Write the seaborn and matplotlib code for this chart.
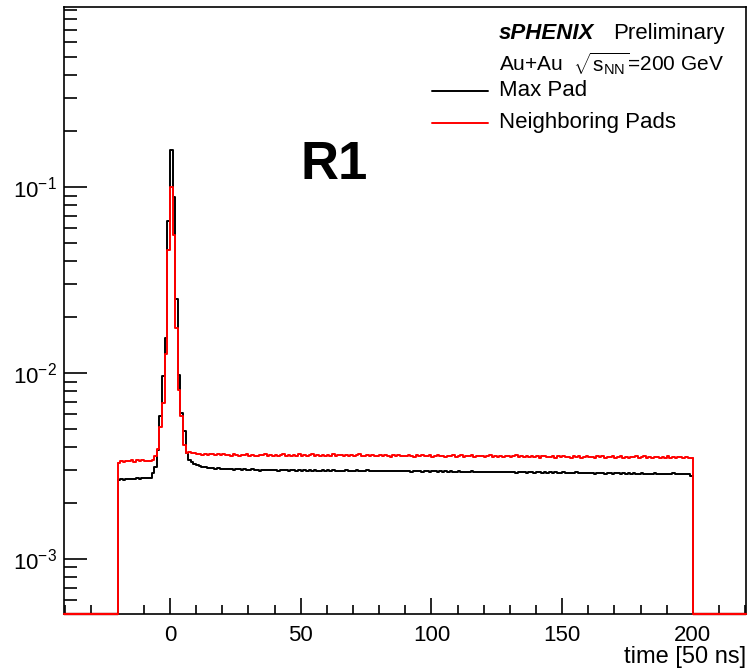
import numpy as np
import pandas as pd
import seaborn as sns
import matplotlib.pyplot as plt
from matplotlib.ticker import MultipleLocator, LogLocator

# Bin edges: 1-unit bins from -20 to 200 (time in 50 ns units)
bin_edges = np.arange(-20, 201)

# Bin contents in units of 1e-5
max_pad_pre = [266, 268, 267, 269, 268, 270, 269, 271, 270, 272, 271, 273, 274]
max_pad_peak = [290, 312, 385, 590, 960, 1550, 6600, 15800, 8800, 2500, 980, 610,
                490, 370, 340, 332]
max_pad_post = [
    326, 320, 316, 313, 311, 310, 308, 309, 306, 307,
    305, 306, 304, 303, 305, 302, 304, 303, 301, 303,
    302, 300, 303, 301, 302, 299, 301, 300, 302, 300,
    301, 302, 299, 301, 300, 302, 299, 301, 300, 298,
    301, 299, 300, 298, 300, 299, 301, 298, 299, 300,
    298, 300, 299, 301, 298, 299, 297, 299, 300, 298,
    299, 297, 300, 298, 299, 297, 300, 298, 297, 299,
    297, 299, 298, 296, 298, 297, 299, 296, 298, 297,
    296, 298, 297, 295, 297, 296, 298, 295, 297, 296,
    295, 297, 296, 294, 296, 295, 297, 294, 296, 295,
    294, 296, 295, 293, 295, 294, 296, 293, 295, 294,
    293, 295, 294, 292, 294, 293, 295, 292, 294, 293,
    292, 294, 293, 291, 293, 292, 294, 291, 293, 292,
    291, 293, 292, 290, 292, 291, 293, 290, 292, 291,
    290, 292, 291, 289, 291, 290, 292, 289, 291, 290,
    289, 291, 290, 288, 290, 289, 291, 288, 290, 289,
    288, 290, 289, 287, 289, 288, 290, 287, 289, 288,
    287, 289, 288, 286, 288, 287, 289, 286, 288, 287,
    288, 286, 287, 289, 286, 288, 285, 287, 286, 285,
    279]

neighbor_pre = [330, 336, 334, 338, 335, 340, 334, 339, 336, 341, 335, 338, 337]
neighbor_peak = [340, 360, 390, 510, 690, 1260, 4600, 10000, 5500, 1740, 810, 590,
                 410, 370, 378, 370]
neighbor_post = [
    372, 366, 369, 364, 367, 363, 368, 365, 362, 366,
    363, 367, 361, 364, 360, 365, 362, 358, 364, 361,
    366, 359, 363, 360, 357, 364, 361, 366, 358, 362,
    360, 364, 357, 362, 367, 359, 361, 356, 363, 360,
    365, 358, 361, 357, 363, 366, 359, 362, 356, 361,
    358, 363, 360, 366, 357, 361, 364, 358, 362, 359,
    363, 356, 361, 365, 358, 360, 363, 357, 361, 359,
    356, 362, 358, 364, 359, 355, 361, 358, 363, 357,
    360, 356, 362, 358, 354, 361, 357, 363, 356, 359,
    361, 355, 358, 362, 356, 359, 353, 360, 357, 362,
    355, 358, 361, 354, 359, 356, 362, 353, 358, 356,
    360, 354, 357, 361, 353, 358, 355, 360, 352, 357,
    359, 353, 356, 361, 354, 357, 352, 358, 355, 360,
    353, 357, 351, 356, 359, 352, 355, 358, 351, 356,
    354, 358, 352, 355, 350, 357, 353, 356, 351, 355,
    358, 352, 354, 349, 356, 353, 357, 351, 354, 352,
    356, 350, 354, 357, 351, 353, 349, 355, 352, 356,
    350, 353, 357, 351, 354, 348, 355, 352, 350, 354,
    351, 356, 349, 353, 350, 355, 352, 349, 354, 351,
    350]

max_pad = np.array(max_pad_pre + max_pad_peak + max_pad_post) * 1e-5
neighbor = np.array(neighbor_pre + neighbor_peak + neighbor_post) * 1e-5

centers = bin_edges[:-1] + 0.5
df = pd.DataFrame({'time': np.concatenate([centers, centers]),
                   'weight': np.concatenate([max_pad, neighbor]),
                   'series': ['Max Pad'] * len(centers) + ['Neighboring Pads'] * len(centers)})

sns.set_theme(style='ticks')
plt.rcParams['font.family'] = ['Liberation Sans', 'DejaVu Sans']
plt.rcParams['mathtext.fontset'] = 'custom'
plt.rcParams['mathtext.rm'] = 'Liberation Sans'
plt.rcParams['mathtext.it'] = 'Liberation Sans:italic'
plt.rcParams['mathtext.bf'] = 'Liberation Sans:bold'
plt.rcParams['text.color'] = 'black'
plt.rcParams['axes.labelcolor'] = 'black'
plt.rcParams['xtick.color'] = 'black'
plt.rcParams['ytick.color'] = 'black'

fig = plt.figure(figsize=(7.49, 6.71), dpi=100)
ax = fig.add_axes([64 / 749, 1 - 614 / 671, (746 - 64) / 749, (614 - 7) / 671])

ymin, ymax = 5.06e-4, 0.93
xmin, xmax = -40.5, 220.3
colors = {'Max Pad': 'black', 'Neighboring Pads': '#ff0000'}

ax.set_yscale('log')
for name in ['Max Pad', 'Neighboring Pads']:
    sub = df[df['series'] == name]
    sns.histplot(data=sub, x='time', weights='weight', bins=bin_edges.tolist(),
                 element='step', fill=False, color=colors[name], linewidth=1.4, ax=ax)
    vals = sub['weight'].values
    # ROOT-style: edges down to the frame and empty bins along the bottom
    ax.plot([bin_edges[0], bin_edges[0]], [ymin, vals[0]], color=colors[name], lw=1.4)
    ax.plot([bin_edges[-1], bin_edges[-1]], [ymin, vals[-1]], color=colors[name], lw=1.4)
    ax.plot([xmin, bin_edges[0]], [ymin, ymin], color=colors[name], lw=1.6,
            clip_on=False, zorder=3)
    ax.plot([bin_edges[-1], xmax], [ymin, ymin], color=colors[name], lw=1.6,
            clip_on=False, zorder=3)

ax.set_xlim(xmin, xmax)
ax.set_ylim(ymin, ymax)
ax.set_xlabel('time [50 ns]', fontsize=17, loc='right', labelpad=0, color='black')
ax.set_ylabel('')

ax.xaxis.set_major_locator(MultipleLocator(50))
ax.xaxis.set_minor_locator(MultipleLocator(10))
ax.yaxis.set_minor_locator(LogLocator(base=10, subs=np.arange(2, 10)))
ax.tick_params(axis='both', which='both', direction='in', top=False, right=False,
               labelsize=16, width=1.2, color='black', labelcolor='black')
ax.tick_params(axis='x', which='major', length=11.5, pad=8)
ax.tick_params(axis='x', which='minor', length=6.5)
ax.tick_params(axis='y', which='major', length=16.5, pad=5)
ax.tick_params(axis='y', which='minor', length=9)
for sp in ax.spines.values():
    sp.set_visible(True)
    sp.set_linewidth(1.2)
    sp.set_color('black')

ax.text(63, 0.131, 'R1', fontsize=38, fontweight='bold', ha='center', va='center',
        color='black')

# header and legend (drawn by hand, ROOT-style)
ax.text(0.638, 0.957, 'sPHENIX', transform=ax.transAxes, fontsize=16,
        fontweight='bold', fontstyle='italic', ha='left', va='center', color='black')
ax.text(0.969, 0.957, 'Preliminary', transform=ax.transAxes, fontsize=16,
        ha='right', va='center', color='black')
ax.text(0.638, 0.907, r'Au+Au  $\sqrt{\mathrm{s}_{\mathrm{NN}}}$=200 GeV', transform=ax.transAxes,
        fontsize=15, ha='left', va='center', color='black')
legend_rows = [('Max Pad', 0.862), ('Neighboring Pads', 0.809)]
for label, ypos in legend_rows:
    ax.plot([0.540, 0.622], [ypos, ypos], transform=ax.transAxes,
            color=colors[label], lw=1.4)
    ax.text(0.638, ypos, label, transform=ax.transAxes, fontsize=16,
            ha='left', va='center', color='black')

fig.savefig('out.png', dpi=100)
